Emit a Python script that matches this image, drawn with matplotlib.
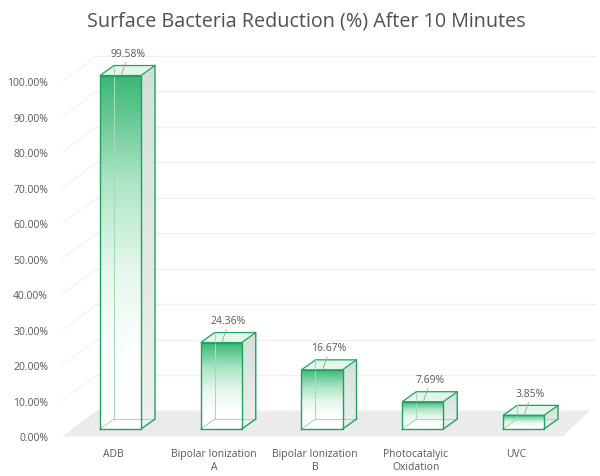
import matplotlib
import numpy as np

matplotlib.use("Agg", force=True)
from matplotlib import pyplot as plt
from matplotlib.colors import LinearSegmentedColormap
from matplotlib.patches import Polygon

categories = ["ADB", "Bipolar Ionization\nA", "Bipolar Ionization\nB",
              "Photocatalyic\nOxidation", "UVC"]
values = [99.58, 24.36, 16.67, 7.69, 3.85]
value_labels = ["99.58%", "24.36%", "16.67%", "7.69%", "3.85%"]
y_ticks = [0, 10, 20, 30, 40, 50, 60, 70, 80, 90, 100]
title = "Surface Bacteria Reduction (%) After 10 Minutes"

# fake 3d geometry, in data units (x = category, y = percent on the front plane)
BAR_W = 0.407
BAR_DX, BAR_DY = 0.139, 2.82
BAR_BASE = 2.1
FLOOR_DEPTH = 7.3
FLOOR_LEFT, FLOOR_LEFT_BACK = -0.58, -0.233
FLOOR_RIGHT, FLOOR_RIGHT_BACK = 4.39, 4.66
WALL_RIGHT = 4.71

TEXT = "#595959"
EDGE = "#1fa35e"
INNER = "#a3dcbd"

front_cmap = LinearSegmentedColormap.from_list(
    "front", [(0.0, "#ffffff"), (0.2, "#fdfffe"), (0.45, "#e6f7ed"), (0.7, "#ade6c5"),
              (0.88, "#68c896"), (1.0, "#3ab777")])
side_cmap = LinearSegmentedColormap.from_list("side", ["#eef1ef", "#d2e0d8"])
grad = np.linspace(0, 1, 256)[:, np.newaxis]

fig = plt.figure(figsize=(6.0, 4.77), dpi=100)
ax = fig.add_axes([62 / 600, 32 / 477, 538 / 600, 405 / 477])
ax.set_facecolor("none")
for s in ax.spines.values():
    s.set_visible(False)

# gridlines: sloped on the left wall, flat on the back wall
for v in y_ticks[1:]:
    ax.plot([FLOOR_LEFT, FLOOR_LEFT_BACK], [v, v + FLOOR_DEPTH], color="#f3f3f3", lw=0.8, zorder=0)
    ax.plot([FLOOR_LEFT_BACK, WALL_RIGHT], [v + FLOOR_DEPTH] * 2, color="#efefef", lw=0.9, zorder=0)

floor = Polygon([(FLOOR_LEFT, 0), (FLOOR_RIGHT, 0), (FLOOR_RIGHT_BACK, FLOOR_DEPTH),
                 (FLOOR_LEFT_BACK, FLOOR_DEPTH)], closed=True, facecolor="#ebebeb",
                edgecolor="none", zorder=1)
ax.add_patch(floor)

for i, (val, lab) in enumerate(zip(values, value_labels)):
    x0, x1 = i - BAR_W / 2, i + BAR_W / 2
    b, t = BAR_BASE, BAR_BASE + val

    side = Polygon([(x1, b), (x1 + BAR_DX, b + BAR_DY), (x1 + BAR_DX, t + BAR_DY), (x1, t)],
                   closed=True, facecolor="none", edgecolor="none")
    ax.add_patch(side)
    im = ax.imshow(grad, cmap=side_cmap, aspect="auto", origin="lower",
                   extent=(x1, x1 + BAR_DX, b, t + BAR_DY), zorder=2)
    im.set_clip_path(side)

    ax.imshow(grad, cmap=front_cmap, aspect="auto", origin="lower",
              extent=(x0, x1, b, t), zorder=3)

    top = Polygon([(x0, t), (x1, t), (x1 + BAR_DX, t + BAR_DY), (x0 + BAR_DX, t + BAR_DY)],
                  closed=True, facecolor="#e4f5eb", edgecolor=EDGE, lw=0.9, zorder=4)
    ax.add_patch(top)

    # edges seen through the box
    ax.plot([x0 + BAR_DX, x0 + BAR_DX, x1 + BAR_DX], [t + BAR_DY, b + BAR_DY, b + BAR_DY],
            color=INNER, lw=0.8, zorder=4)
    ax.plot([x0, x0 + BAR_DX], [b, b + BAR_DY], color=INNER, lw=0.8, zorder=4)

    ax.plot([x0, x1, x1, x0, x0], [b, b, t, t, b], color=EDGE, lw=1.0, zorder=5)
    ax.plot([x1, x1 + BAR_DX, x1 + BAR_DX], [b, b + BAR_DY, t + BAR_DY], color=EDGE, lw=1.0, zorder=5)

    ax.plot([i + 0.05, i + 0.01], [t + 3.6, t + 0.4], color="#a6a6a6", lw=0.7, zorder=6)
    ax.text(i + 0.07, t + 6.3, lab, ha="center", va="center", fontsize=7.5,
            color=TEXT, family="Open Sans", zorder=6)

ax.set_xticks(np.arange(len(categories)) - 0.07, categories)
ax.set_yticks(y_ticks, [f"{v:.2f}%" for v in y_ticks])
ax.tick_params(axis="both", length=0, labelsize=7.5, labelcolor=TEXT)
ax.tick_params(axis="y", pad=10)
ax.tick_params(axis="x", pad=3)
for lbl in ax.get_xticklabels() + ax.get_yticklabels():
    lbl.set_family("Open Sans")

ax.set_xlim(-0.5806, 4.7593)
ax.set_ylim(-2.113, 111.97)

fig.text(306 / 600, 1 - 22 / 477, title, ha="center", va="center", fontsize=14.2,
         color="#505050", family="Open Sans")

fig.savefig("out.png", dpi=100)
